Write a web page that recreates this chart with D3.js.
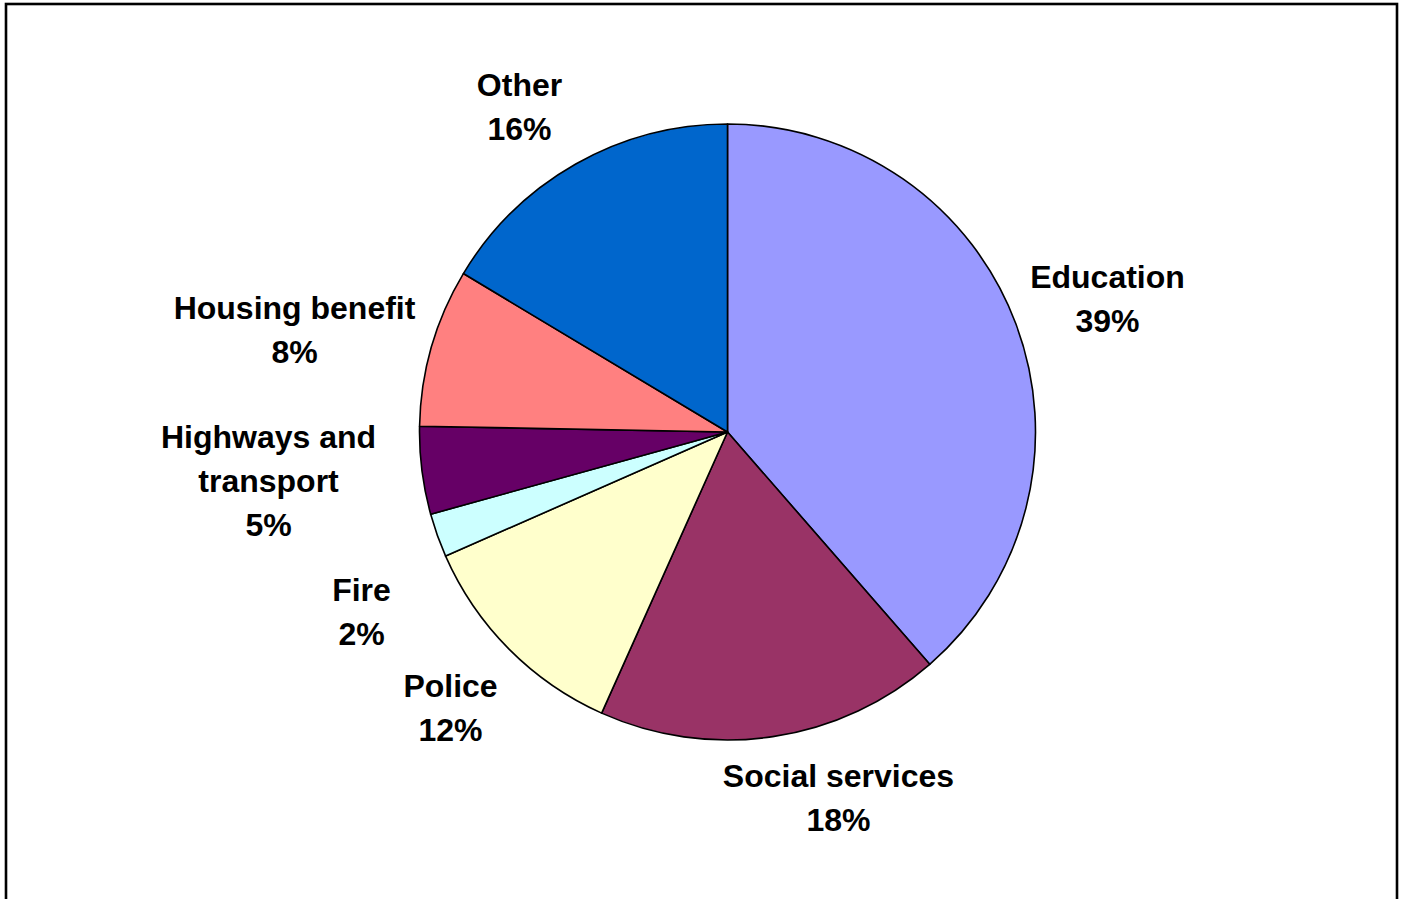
<!DOCTYPE html>
<html>
<head>
<meta charset="utf-8">
<script src="https://cdn.jsdelivr.net/npm/d3@7"></script>
<style>
  html, body { margin: 0; padding: 0; background: #ffffff; overflow: hidden; }
  svg { display: block; }
</style>
</head>
<body>
<svg id="chart" width="1407" height="899"></svg>
<script>
// ---- data ----
const categories = ["Education", "Social services", "Police", "Fire", "Highways and transport", "Housing benefit", "Other"];
const values = [38.6, 18.1, 11.7, 2.3, 4.6, 8.3, 16.4];
const colors = ["#9999FF", "#993366", "#FFFFCC", "#CCFFFF", "#660066", "#FF8080", "#0066CC"];
const labelLines = [["Education"], ["Social services"], ["Police"], ["Fire"], ["Highways and", "transport"], ["Housing benefit"], ["Other"]];

// ---- layout ----
const W = 1407, H = 899;
const cx = 727.5, cy = 432, radius = 308;
const fontSize = 32, lineGap = 44;
// label block centre offsets from the pie centre
const labelOffset = [[380, -133], [111, 366], [-277, 276], [-366, 180], [-459, 48.5], [-433, -102], [-208, -325]];

const svg = d3.select("#chart");

// frame
svg.append("rect")
  .attr("x", 6).attr("y", 4)
  .attr("width", 1391).attr("height", 920)
  .attr("fill", "none").attr("stroke", "#000").attr("stroke-width", 2.6);

const data = categories.map((c, i) => ({ cat: c, value: values[i], color: colors[i], lines: labelLines[i], off: labelOffset[i] }));

const pie = d3.pie().value(d => d.value).sort(null).startAngle(0).endAngle(2 * Math.PI);
const arc = d3.arc().innerRadius(0).outerRadius(radius);

const g = svg.append("g").attr("transform", `translate(${cx},${cy})`);

g.selectAll("path.slice")
  .data(pie(data))
  .join("path")
  .attr("class", "slice")
  .attr("d", arc)
  .attr("fill", d => d.data.color)
  .attr("stroke", "#000")
  .attr("stroke-width", 1.6)
  .attr("stroke-linejoin", "round");

const fmt = v => Math.round(v) + "%";

const labels = g.selectAll("g.lab")
  .data(pie(data))
  .join("g")
  .attr("class", "lab")
  .attr("transform", d => `translate(${d.data.off[0]},${d.data.off[1]})`);

labels.each(function(d) {
  const lines = d.data.lines.concat([fmt(d.data.value)]);
  const n = lines.length;
  const capH = fontSize * 0.716;
  const t = d3.select(this).append("text")
    .attr("text-anchor", "middle")
    .attr("font-family", "'Liberation Sans', Arial, sans-serif")
    .attr("font-weight", "bold")
    .attr("font-size", fontSize)
    .attr("fill", "#000");
  lines.forEach((ln, i) => {
    t.append("tspan")
      .attr("x", 0)
      .attr("y", (i - (n - 1) / 2) * lineGap + capH / 2)
      .text(ln);
  });
});
</script>
</body>
</html>
